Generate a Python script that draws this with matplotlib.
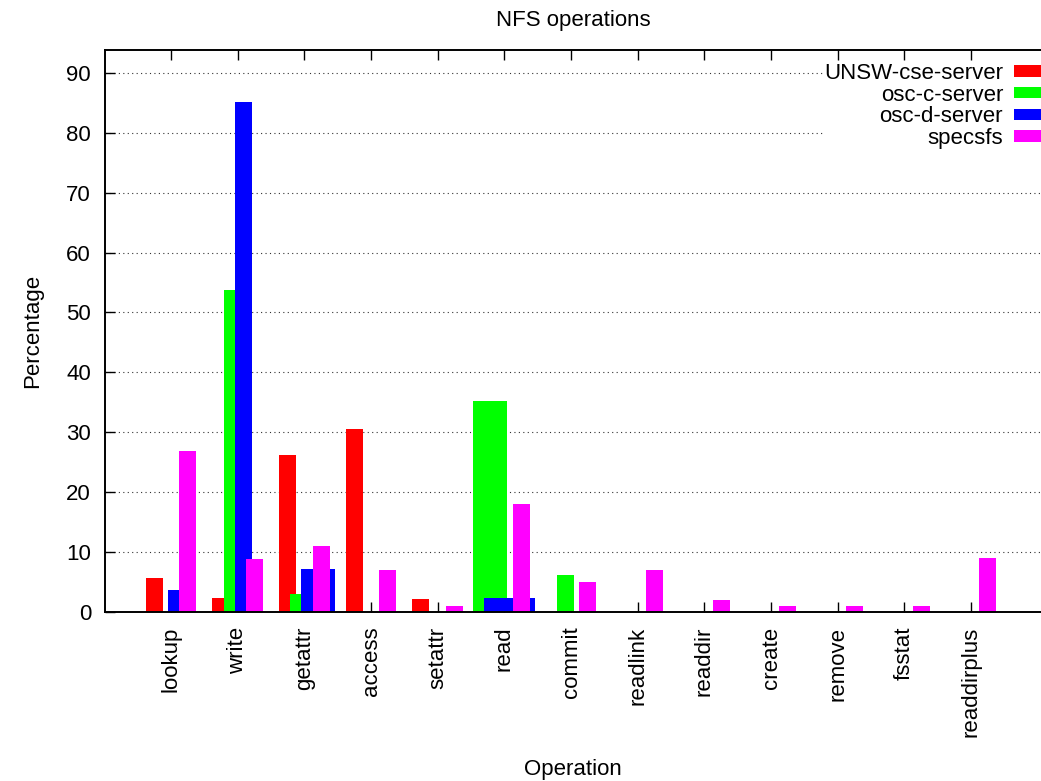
import matplotlib
matplotlib.use("Agg")
import matplotlib.pyplot as plt
from matplotlib.patches import Patch
import numpy as np

plt.rcParams['font.family'] = ['Liberation Sans', 'DejaVu Sans']

# ---- data ----
operations = ["lookup", "write", "getattr", "access", "setattr", "read", "commit",
              "readlink", "readdir", "create", "remove", "fsstat", "readdirplus"]
series_names = ["UNSW-cse-server", "osc-c-server", "osc-d-server", "specsfs"]
unsw_cse = [5.6, 2.4, 26.2, 30.6, 2.2, 0, 0, 0, 0, 0, 0, 0, 0]
osc_c = [0, 53.7, 3.0, 0, 0, 35.2, 6.2, 0, 0, 0, 0, 0, 0]
osc_d = [3.6, 85.2, 7.2, 0, 0, 2.4, 0, 0, 0, 0, 0, 0, 0]
specsfs = [26.9, 8.9, 11.0, 7.0, 1.0, 18.0, 5.0, 7.0, 2.0, 1.0, 1.0, 1.0, 9.0]
yticks = [0, 10, 20, 30, 40, 50, 60, 70, 80, 90]

# ---- style ----
colors = ["#ff0000", "#00ff00", "#0000ff", "#ff00ff"]
slot = 0.1667
bar_w = 0.255
# (left, right) extra bar-widths for a few bars that the original drew wider
extend = {(2, 2): (0, 1), (1, 5): (1, 0), (2, 5): (1, 1)}
FS = 16

W, H = 1041, 781
fig = plt.figure(figsize=(W / 100, H / 100), dpi=100)
ax = fig.add_axes([105 / W, (H - 612) / H, (1041 - 105) / W, (612 - 50) / H])

x = np.arange(len(operations))
all_series = [unsw_cse, osc_c, osc_d, specsfs]
for s, vals in enumerate(all_series):
    vals = np.asarray(vals, dtype=float)
    lefts = x + (s - 1.5) * slot - bar_w / 2
    widths = np.full(len(x), bar_w)
    for i in range(len(x)):
        el, er = extend.get((s, i), (0, 0))
        lefts[i] -= el * bar_w
        widths[i] += (el + er) * bar_w
    mask = vals > 0
    ax.bar(lefts[mask], vals[mask], width=widths[mask], align='edge',
           color=colors[s], linewidth=0, zorder=2 + s)

ax.set_xlim(-0.99, 13.05)
ax.set_ylim(0, 93.8)
ax.set_xticks(x)
ax.set_xticklabels(operations, rotation=90, fontsize=FS)
ax.set_yticks(yticks)
ax.set_yticklabels([str(v) for v in yticks], fontsize=FS)
ax.tick_params(axis='x', direction='in', length=7, width=1.0, top=True, pad=10.5)
ax.tick_params(axis='y', direction='in', length=7, width=1.0, right=False, pad=10)
ax.spines['right'].set_visible(False)
for sp in ['left', 'top', 'bottom']:
    ax.spines[sp].set_linewidth(1.4)
    ax.spines[sp].set_zorder(10)

ax.set_axisbelow(True)
ax.yaxis.grid(True, linestyle=(0, (1, 3)), color='#333333', linewidth=0.8)

ax.text(0.5, 1 + 30 / 562, "NFS operations", transform=ax.transAxes,
        ha='center', va='center', fontsize=FS)
ax.text(0.5, -(770 - 612) / 562, "Operation", transform=ax.transAxes,
        ha='center', va='center', fontsize=FS)
ax.text(-(105 - 33) / 936, 0.5, "Percentage", transform=ax.transAxes,
        ha='center', va='center', rotation=90, fontsize=FS)

handles = [Patch(facecolor=c, edgecolor='none') for c in colors]
leg = ax.legend(handles, series_names, loc='upper right',
                bbox_to_anchor=(1043 / W, 1 - 63 / H), bbox_transform=fig.transFigure,
                markerfirst=False, fontsize=FS, frameon=True, fancybox=False,
                framealpha=1, facecolor='white', edgecolor='none',
                borderpad=0, borderaxespad=0, handlelength=1.3, handleheight=0.4,
                handletextpad=0.5, labelspacing=0.03)
leg.set_zorder(20)

fig.savefig("out.png", dpi=100)
